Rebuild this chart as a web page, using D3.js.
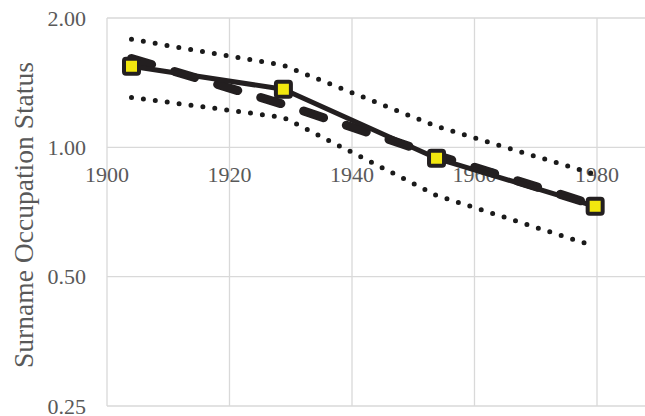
<!DOCTYPE html>
<html><head><meta charset="utf-8">
<script src="https://cdn.jsdelivr.net/npm/d3@7"></script>
<style>
html,body{margin:0;padding:0;background:#fff;}
svg{display:block;}
text{font-family:"Liberation Serif","Times New Roman",serif;fill:#595959;}
</style></head>
<body>
<svg id="chart" width="645" height="416"></svg>
<script>
// Data
const years = [1904, 1928.8, 1953.8, 1979.7];
const observed = [1.544, 1.365, 0.943, 0.729];
const fitted = [1.61, 1.259, 0.958, 0.733];
const upperCI = [1.784, 1.552, 1.119, 0.865];
const lowerCI = [1.307, 1.174, 0.773, 0.588];
const xTicks = [1900, 1920, 1940, 1960, 1980];
const yTicks = [0.25, 0.5, 1, 2];
const yLabel = "Surname Occupation Status";

(function () {
const svg = d3.select("#chart");
const W = 645;
const pLeft = 107, pTop = 18, pBottom = 406;
const x = d3.scaleLinear().domain([1900, 1980]).range([pLeft, 597]);
const y = d3.scaleLog().base(2).domain([0.25, 2]).range([pBottom, pTop]);

// gridlines
const grid = svg.append("g");
grid.selectAll(".hg").data(yTicks).join("line")
  .attr("x1", pLeft).attr("x2", W)
  .attr("y1", d => y(d)).attr("y2", d => y(d))
  .attr("stroke", "#d9d9d9").attr("stroke-width", 1.3);
grid.selectAll(".vg").data(xTicks).join("line")
  .attr("x1", d => x(d)).attr("x2", d => x(d))
  .attr("y1", pTop).attr("y2", pBottom)
  .attr("stroke", "#d9d9d9").attr("stroke-width", 1.3);

// y tick labels
svg.append("g").selectAll("text").data(yTicks).join("text")
  .attr("x", 86).attr("y", d => y(d)).attr("dy", "0.35em")
  .attr("text-anchor", "end").style("font-size", "22px")
  .text(d => d3.format(".2f")(d));

// x tick labels (axis crosses at 1.00)
svg.append("g").selectAll("text").data(xTicks).join("text")
  .attr("x", d => x(d)).attr("y", y(1) + 35)
  .attr("text-anchor", "middle").style("font-size", "22px")
  .text(d => d);

// y axis title
svg.append("text")
  .attr("transform", `translate(33,215) rotate(-90)`)
  .attr("text-anchor", "middle").style("font-size", "27px")
  .attr("textLength", 306).attr("lengthAdjust", "spacingAndGlyphs")
  .text(yLabel);

const line = d3.line().x(d => x(d[0])).y(d => y(d[1]));
const pts = arr => years.map((yr, i) => [yr, arr[i]]);

// dotted CI lines
[upperCI, lowerCI].forEach(arr => {
  svg.append("path").datum(pts(arr)).attr("d", line)
    .attr("fill", "none").attr("stroke", "#1a1a1a").attr("stroke-width", 5)
    .attr("stroke-linecap", "round").attr("stroke-dasharray", "0,12");
});

// dashed fitted line
svg.append("path").datum(pts(fitted)).attr("d", line)
  .attr("fill", "none").attr("stroke", "#231f20").attr("stroke-width", 9)
  .attr("stroke-linecap", "round").attr("stroke-linejoin", "round")
  .attr("stroke-dasharray", "21,24");

// solid observed line
svg.append("path").datum(pts(observed)).attr("d", line)
  .attr("fill", "none").attr("stroke", "#231f20").attr("stroke-width", 5)
  .attr("stroke-linejoin", "round");

// markers
svg.append("g").selectAll("rect").data(pts(observed)).join("rect")
  .attr("x", d => x(d[0]) - 7.5).attr("y", d => y(d[1]) - 7.5)
  .attr("width", 15).attr("height", 15).attr("rx", 2)
  .attr("fill", "#f2e70f").attr("stroke", "#231f20").attr("stroke-width", 4);
})();
</script>
</body></html>
